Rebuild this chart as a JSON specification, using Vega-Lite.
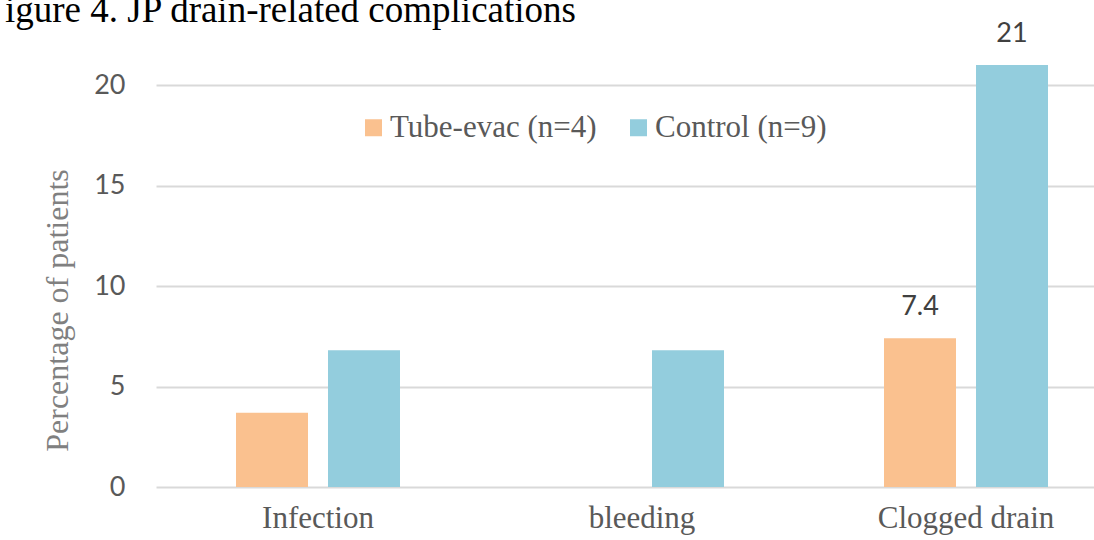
{
  "$schema": "https://vega.github.io/schema/vega-lite/v6.json",
  "autosize": {"type": "none"},
  "padding": {"left": 156, "top": 65, "right": 0, "bottom": 53},
  "width": 938,
  "height": 422,
  "background": "white",
  "config": {"view": {"stroke": null}},
  "title": {
    "text": "igure 4. JP drain-related complications",
    "anchor": "start",
    "frame": "group",
    "dx": -151,
    "offset": -39,
    "baseline": "alphabetic",
    "font": "Liberation Serif",
    "fontSize": 37,
    "fontWeight": "normal",
    "color": "#000000"
  },
  "data": {
    "values": [
      {"complication": "Infection", "group": "Tube-evac (n=4)", "percent": 3.7, "label": ""},
      {"complication": "Infection", "group": "Control (n=9)", "percent": 6.8, "label": ""},
      {"complication": "bleeding", "group": "Tube-evac (n=4)", "percent": 0, "label": ""},
      {"complication": "bleeding", "group": "Control (n=9)", "percent": 6.8, "label": ""},
      {"complication": "Clogged drain", "group": "Tube-evac (n=4)", "percent": 7.4, "label": "7.4"},
      {"complication": "Clogged drain", "group": "Control (n=9)", "percent": 21, "label": "21"}
    ]
  },
  "encoding": {
    "x": {
      "field": "complication",
      "type": "nominal",
      "sort": ["Infection", "bleeding", "Clogged drain"],
      "scale": {"range": [0, 972], "paddingInner": 0, "paddingOuter": 0},
      "axis": {
        "title": null,
        "labelAngle": 0,
        "labelFont": "Liberation Serif",
        "labelFontSize": 31,
        "labelColor": "#595959",
        "labelPadding": 16,
        "ticks": false,
        "domain": false,
        "grid": false
      }
    },
    "xOffset": {
      "field": "group",
      "type": "nominal",
      "sort": ["Tube-evac (n=4)", "Control (n=9)"],
      "scale": {"paddingInner": 0.2174, "paddingOuter": 0.8696}
    },
    "y": {
      "field": "percent",
      "type": "quantitative",
      "scale": {"domain": [0, 21], "nice": false},
      "axis": {
        "title": "Percentage of patients",
        "titleFont": "Liberation Serif",
        "titleFontSize": 32,
        "titleFontWeight": "normal",
        "titleColor": "#808080",
        "titleAngle": -90,
        "titleX": -89,
        "titleY": 245,
        "titleAlign": "center",
        "titleBaseline": "alphabetic",
        "values": [0, 5, 10, 15, 20],
        "labelFont": "Lato",
        "labelFontSize": 27,
        "labelColor": "#595959",
        "labelPadding": 31,
        "ticks": false,
        "domain": false,
        "grid": true,
        "gridColor": "#d9d9d9",
        "gridWidth": 2
      }
    }
  },
  "layer": [
    {
      "mark": {"type": "bar"},
      "encoding": {
        "color": {
          "field": "group",
          "type": "nominal",
          "sort": ["Tube-evac (n=4)", "Control (n=9)"],
          "scale": {"domain": ["Tube-evac (n=4)", "Control (n=9)"], "range": ["#FAC18F", "#93CDDD"]},
          "legend": {
            "title": null,
            "orient": "none",
            "legendX": 202,
            "legendY": 47,
            "direction": "horizontal",
            "symbolType": "square",
            "symbolSize": 289,
            "symbolStrokeWidth": 0,
            "labelFont": "Liberation Serif",
            "labelFontSize": 31,
            "labelColor": "#595959",
            "labelOffset": 1,
            "columnPadding": 26,
            "padding": 0,
            "labelLimit": 400
          }
        }
      }
    },
    {
      "mark": {"type": "text", "baseline": "alphabetic", "dy": -23, "font": "Lato", "fontSize": 27, "color": "#404040"},
      "encoding": {
        "text": {"field": "label"}
      }
    }
  ]
}
